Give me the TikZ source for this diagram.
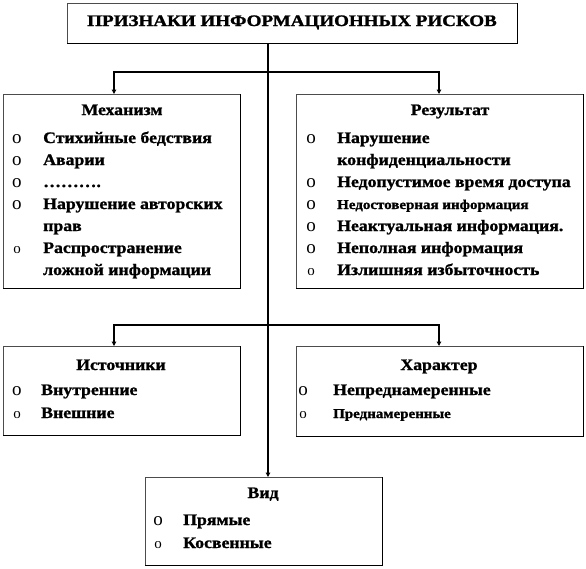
\documentclass[tikz,border=0pt]{standalone}
\usepackage{fontspec}
\setmainfont{Liberation Serif}[FakeStretch=1.11, BoldFont={Liberation Serif Bold}, BoldFeatures={FakeBold=1.2}]
\newfontfamily\titlefont{Liberation Serif Bold}[FakeStretch=1.19, FakeBold=1.5]
\newfontfamily\bulfont{Liberation Serif}
\usetikzlibrary{arrows.meta}
\begin{document}
\begin{tikzpicture}[x=1pt,y=-1pt,
  box/.style={inner sep=0pt, anchor=north west},
  titletxt/.style={font=\titlefont\fontsize{16}{16}\selectfont, inner sep=0pt, anchor=base},
  hdr/.style={font=\bfseries\fontsize{16}{16}\selectfont, inner sep=0pt, anchor=base},
  itm/.style={font=\bfseries\fontsize{16}{16}\selectfont, inner sep=0pt, anchor=base west},
  sitm/.style={font=\bfseries\fontsize{13.5}{14}\selectfont, inner sep=0pt, anchor=base west},
  bul/.style={font=\bulfont\fontsize{19}{19}\selectfont, inner sep=0pt, anchor=base},
  sbul/.style={font=\bulfont\fontsize{15}{15}\selectfont, inner sep=0pt, anchor=base},
  conn/.style={line width=1.2pt},
  arr/.style={conn, -{Triangle[width=4.5pt,length=4.5pt]}}]
\useasboundingbox (0,0) rectangle (586,568);
\fill[white] (0,0) rectangle (586,568);

% boxes
\node[box, minimum width=450pt, minimum height=40pt] (title) at (67,3) {};
\node[box, minimum width=237pt, minimum height=194pt] (mech) at (3,94) {};
\node[box, minimum width=287pt, minimum height=194pt] (res) at (296,94) {};
\node[box, minimum width=237pt, minimum height=89pt] (src) at (3,346) {};
\node[box, minimum width=287pt, minimum height=90pt] (chr) at (296,346) {};
\node[box, minimum width=237pt, minimum height=88pt] (vid) at (145,477) {};
\foreach \n in {title,mech,res,src,chr,vid}{
  \draw[line width=0.7pt, black!70] (\n.south west) |- (\n.north east);
  \draw[line width=1.6pt] (\n.north east) |- (\n.south west);
}

% title
\node[titletxt] (tt) at (292,26) {ПРИЗНАКИ ИНФОРМАЦИОННЫХ РИСКОВ};

% Mechanism
\node[hdr] (mh) at (122,115) {Механизм};
\node[bul] (mb1) at (17,143) {o};
\node[itm] (m1) at (43,143) {Стихийные бедствия};
\node[bul] (mb2) at (17,165) {o};
\node[itm] (m2) at (43,165) {Аварии};
\node[bul] (mb3) at (17,187) {o};
\node[itm] (m3) at (43,187) {……….};
\node[bul] (mb4) at (17,209) {o};
\node[itm] (m4) at (43,209) {Нарушение авторских};
\node[itm] (m4b) at (43,231) {прав};
\node[sbul] (mb5) at (17,253) {o};
\node[itm] (m5) at (43,253) {Распространение};
\node[itm] (m5b) at (43,275) {ложной информации};

% Result
\node[hdr] (rh) at (450,115) {Результат};
\node[bul] (rb1) at (311,143) {o};
\node[itm] (r1) at (337,143) {Нарушение};
\node[itm] (r1b) at (337,165) {конфиденциальности};
\node[bul] (rb2) at (311,187) {o};
\node[itm] (r2) at (337,187) {Недопустимое время доступа};
\node[bul] (rb3) at (311,209) {o};
\node[sitm] (r3) at (337,209) {Недостоверная информация};
\node[bul] (rb4) at (311,231) {o};
\node[itm] (r4) at (337,231) {Неактуальная информация.};
\node[bul] (rb5) at (311,253) {o};
\node[itm] (r5) at (337,253) {Неполная информация};
\node[sbul] (rb6) at (311,275) {o};
\node[itm] (r6) at (337,275) {Излишняя избыточность};

% Sources
\node[hdr] (sh) at (121,370) {Источники};
\node[bul] (sb1) at (17,395) {o};
\node[itm] (s1) at (41,395) {Внутренние};
\node[sbul] (sb2) at (17,418) {o};
\node[itm] (s2) at (41,418) {Внешние};

% Character
\node[hdr] (ch) at (439,370) {Характер};
\node[bul] (cb1) at (303,395) {o};
\node[itm] (c1) at (333,395) {Непреднамеренные};
\node[sbul] (cb2) at (303,418) {o};
\node[sitm] (c2) at (333,418) {Преднамеренные};

% Vid
\node[hdr] (vh) at (263,498) {Вид};
\node[bul] (vb1) at (158,525) {o};
\node[itm] (v1) at (183,525) {Прямые};
\node[sbul] (vb2) at (158,548) {o};
\node[itm] (v2) at (183,548) {Косвенные};

% connectors
\coordinate (j1) at (268,72);
\coordinate (j2) at (268,325);
\coordinate (lx) at (114,0);
\coordinate (rx) at (439,0);
\draw[arr] (title.south -| j1) -- (vid.north -| j1);
\draw[arr] (j1) -| (mech.north -| lx);
\draw[arr] (j1) -| (res.north -| rx);
\draw[arr] (j2) -| (src.north -| lx);
\draw[arr] (j2) -| (chr.north -| rx);
\end{tikzpicture}
\end{document}
